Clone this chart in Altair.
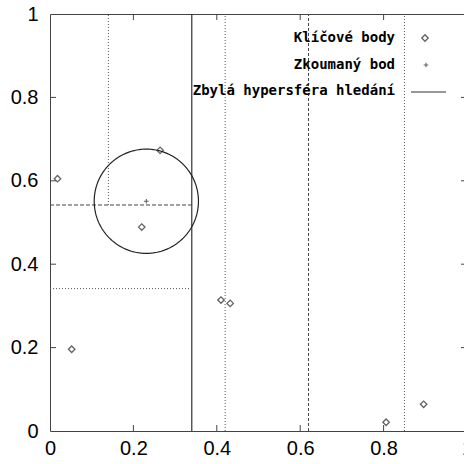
import altair as alt
import numpy as np
import pandas as pd

# Key points (Klíčové body)
key_x = [0.018, 0.052, 0.220, 0.264, 0.410, 0.432, 0.806, 0.896]
key_y = [0.605, 0.196, 0.489, 0.673, 0.314, 0.306, 0.021, 0.064]

# Examined point (Zkoumaný bod) and remaining search hypersphere
query_x = [0.231]
query_y = [0.551]
radius = 0.125

# Splitting lines of the kd-tree
split_x0 = [0.34, 0.14, 0.42, 0.62, 0.85, 0.00, 0.00]
split_x1 = [0.34, 0.14, 0.42, 0.62, 0.85, 0.34, 0.34]
split_y0 = [0.00, 0.542, 0.00, 0.00, 0.00, 0.542, 0.3415]
split_y1 = [1.00, 1.00, 1.00, 1.00, 1.00, 0.542, 0.3415]
split_style = ["solid", "dotted", "dotted", "dashed_v", "dotted", "dashed_h", "dotted"]

tick_values = [0, 0.2, 0.4, 0.6, 0.8, 1]
inner_ticks = [0.2, 0.4, 0.6, 0.8]

legend_labels = ["Klíčové body", "Zkoumaný bod", "Zbylá hypersféra hledání"]

W = 417
H = 417

xs = alt.Scale(domain=[0, 1], nice=False, zero=False)
ys = alt.Scale(domain=[0, 1], nice=False, zero=False)

xaxis = alt.Axis(values=tick_values, tickSize=0, domain=False, grid=False, format="~g",
                 labelFont="Liberation Sans", labelFontSize=20, labelColor="black",
                 labelPadding=7, title=None, labelFlush=False)
yaxis = alt.Axis(values=tick_values, tickSize=0, domain=False, grid=False, format="~g",
                 labelFont="Liberation Sans", labelFontSize=20, labelColor="black",
                 labelPadding=12, title=None, labelFlush=False)

pts = pd.DataFrame({"x": key_x, "y": key_y})
q = pd.DataFrame({"x": query_x, "y": query_y})
splits = pd.DataFrame({"x0": split_x0, "x1": split_x1, "y0": split_y0,
                       "y1": split_y1, "style": split_style})

t = np.linspace(0, 2 * np.pi, 241)
circ = pd.DataFrame({"x": query_x[0] + radius * np.cos(t),
                     "y": query_y[0] + radius * np.sin(t),
                     "i": np.arange(len(t))})

def X(field):
    return alt.X(field, scale=xs, axis=xaxis)

def Y(field):
    return alt.Y(field, scale=ys, axis=yaxis)

base_axes = alt.Chart(pts).mark_point(opacity=0).encode(x=X("x:Q"), y=Y("y:Q"))

def split_layer(style, dash, color, width):
    return alt.Chart(splits).transform_filter(
        alt.datum.style == style
    ).mark_rule(strokeDash=dash, color=color, strokeWidth=width).encode(
        x=X("x0:Q"), x2="x1:Q", y=Y("y0:Q"), y2="y1:Q",
    )

solid = split_layer("solid", [1, 0], "#333333", 1.2)
dotted = split_layer("dotted", [1, 2], "#555555", 1)
dashed_v = split_layer("dashed_v", [3, 2], "#444444", 1)
dashed_h = split_layer("dashed_h", [4, 2], "#444444", 1)

circle = alt.Chart(circ).mark_line(color="#222222", strokeWidth=1.2).encode(
    x=X("x:Q"), y=Y("y:Q"), order="i:Q",
)

diamonds = alt.Chart(pts).mark_point(shape="diamond", size=42, filled=False,
                                     color="#222222", strokeWidth=1.3).encode(
    x=X("x:Q"), y=Y("y:Q"),
)

plus_path = "M-1,0H1M0,-1V1"
plus = alt.Chart(q).mark_point(shape=plus_path, size=22, filled=False,
                               color="#222222", strokeWidth=1.1).encode(
    x=X("x:Q"), y=Y("y:Q"),
)

tk = pd.DataFrame({"v": inner_ticks})
tick_color = "#444444"
bottom_ticks = alt.Chart(tk).mark_rule(color=tick_color).encode(
    x=X("v:Q"), y=alt.value(H), y2=alt.value(H - 6))
top_ticks = alt.Chart(tk).mark_rule(color=tick_color).encode(
    x=X("v:Q"), y=alt.value(0), y2=alt.value(6))
left_ticks = alt.Chart(tk).mark_rule(color=tick_color).encode(
    y=Y("v:Q"), x=alt.value(0), x2=alt.value(6))
right_ticks = alt.Chart(tk).mark_rule(color=tick_color).encode(
    y=Y("v:Q"), x=alt.value(W), x2=alt.value(W - 6))

leg_rows_y = [24, 51, 77]
one = pd.DataFrame({"a": [0]})
legend_texts = [
    alt.Chart(one).mark_text(
        text=lab, align="right", baseline="middle", font="DejaVu Sans Mono",
        fontSize=14, fontWeight="bold", color="black"
    ).encode(x=alt.value(345), y=alt.value(py))
    for lab, py in zip(legend_labels, leg_rows_y)
]

leg_diamond = alt.Chart(one).mark_point(
    shape="diamond", size=42, filled=False, color="#222222", strokeWidth=1.3
).encode(x=alt.value(375), y=alt.value(leg_rows_y[0]))
leg_plus = alt.Chart(one).mark_point(
    shape=plus_path, size=22, filled=False, color="#222222", strokeWidth=1.1
).encode(x=alt.value(376), y=alt.value(leg_rows_y[1]))
leg_line = alt.Chart(one).mark_rule(
    color="#333333", strokeWidth=1.2
).encode(x=alt.value(361), x2=alt.value(396), y=alt.value(leg_rows_y[2] + 1))

chart = alt.layer(
    base_axes, solid, dotted, dashed_v, dashed_h, circle, diamonds, plus,
    bottom_ticks, top_ticks, left_ticks, right_ticks,
    *legend_texts, leg_diamond, leg_plus, leg_line,
).properties(
    width=W, height=H,
    autosize=alt.AutoSizeParams(type="none"),
    padding={"left": 50, "top": 14, "right": -3, "bottom": 33},
    background="white",
).configure_view(stroke="#444444", strokeWidth=1)

chart.save("out.html", embed_options={"renderer": "svg", "actions": False})
